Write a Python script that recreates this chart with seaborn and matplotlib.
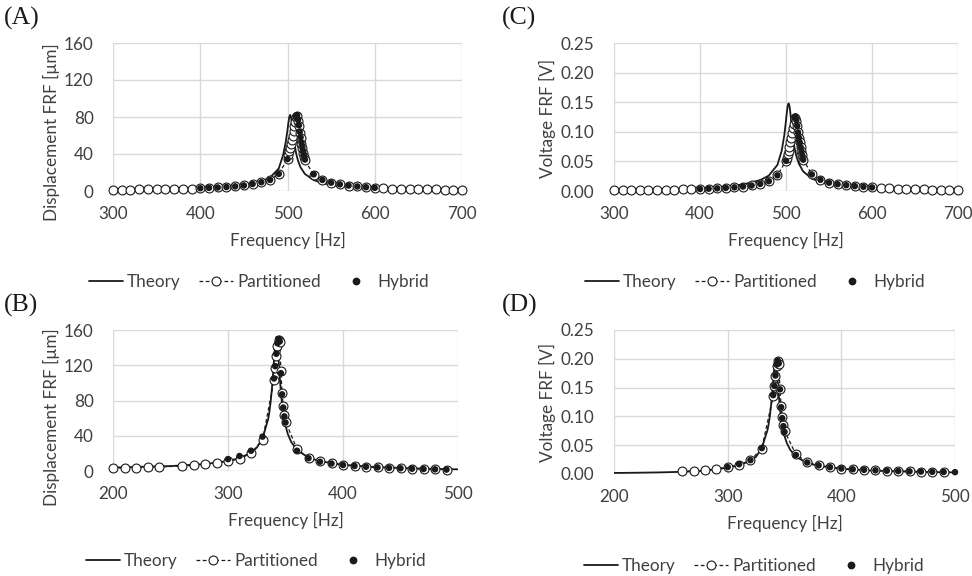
import matplotlib
matplotlib.use("Agg")
import matplotlib.pyplot as plt
import seaborn as sns
from matplotlib.lines import Line2D
from matplotlib.ticker import FormatStrFormatter

# ---------------- (A) displacement FRF, first mode ----------------
a_theory_f = [300, 350, 400, 430, 450, 470, 480, 490, 495, 498, 500, 501, 502, 503, 504, 505,
              506, 507, 508, 510, 512, 515, 520, 530, 540, 550, 575, 600, 650, 700]
a_theory_v = [1.8, 2.4, 3.4, 4.8, 6.5, 10.2, 14.5, 24.4, 39.0, 53.0, 66.0, 73.7, 79.9, 82.3, 79.9, 73.7,
              65.4, 57.6, 50.8, 40.3, 32.9, 25.5, 18.4, 11.8, 8.5, 6.6, 4.2, 3.0, 1.9, 1.4]

a_part_f = [300, 310, 320, 330, 340, 350, 360, 370, 380, 390, 400, 410, 420, 430, 440, 450, 460, 470,
            480, 490, 500, 501, 502, 503, 504, 505, 506, 507, 508, 509, 510, 511, 512, 513, 514, 515,
            516, 517, 518, 519, 520, 530, 540, 550, 560, 570, 580, 590, 600, 610, 620, 630, 640, 650,
            660, 670, 680, 690, 700]
a_part_v = [1.5, 1.6, 1.6, 1.7, 1.8, 1.9, 2.0, 2.2, 2.4, 2.7, 3.0, 3.4, 3.8, 4.3, 5.0, 6.0, 7.6, 9.5,
            12.0, 18.5, 34.5, 39.0, 43.0, 47.0, 51.0, 55.0, 60.0, 65.0, 70.0, 75.0, 80.0, 81.0, 76.0,
            70.0, 63.0, 57.0, 51.0, 46.0, 41.0, 37.0, 33.0, 17.5, 12.0, 9.0, 7.2, 5.9, 4.9, 4.1, 3.4,
            3.0, 2.7, 2.4, 2.2, 2.0, 1.8, 1.7, 1.6, 1.5, 1.4]

a_hyb_f = [400, 410, 420, 430, 440, 450, 460, 470, 480, 490, 500, 510, 511, 512, 513, 514, 515, 516,
           517, 518, 519, 520, 530, 540, 550, 560, 570, 580, 590, 600]
a_hyb_v = [3.0, 3.4, 3.8, 4.3, 5.0, 6.0, 7.6, 9.5, 12.0, 18.5, 34.5, 81.0, 82.0, 77.0, 71.0, 64.0,
           58.0, 52.0, 47.0, 42.0, 38.0, 34.0, 18.0, 12.0, 9.0, 7.2, 5.9, 4.9, 4.1, 3.4]

# ---------------- (B) displacement FRF, second case ----------------
b_theory_f = [200, 250, 280, 300, 310, 320, 325, 330, 335, 336, 337, 338, 339, 340, 341, 342, 343,
              344, 345, 346, 347, 348, 349, 350, 352, 355, 360, 370, 380, 400, 425, 450, 475, 500]
b_theory_v = [3.9, 5.6, 7.9, 11.3, 14.6, 20.8, 26.5, 36.7, 59.3, 67.0, 77.5, 90.6, 107.0, 126.0,
              144.0, 152.0, 144.0, 126.0, 107.0, 89.0, 76.0, 66.0, 57.9, 51.6, 42.0, 32.8, 23.8,
              15.2, 11.1, 7.0, 4.7, 3.4, 2.5, 1.9]

b_part_f = [200, 210, 220, 230, 240, 260, 270, 280, 290, 300, 310, 320, 330, 340, 341, 342, 343, 344,
            345, 346, 347, 348, 349, 350, 360, 370, 380, 390, 400, 410, 420, 430, 440, 450, 460, 470,
            480, 490]
b_part_v = [3.3, 3.6, 3.9, 4.2, 4.6, 5.6, 6.4, 7.5, 8.9, 10.8, 14.0, 20.0, 35.0, 103.0, 117.0, 130.0,
            142.0, 149.0, 146.0, 113.0, 89.0, 74.0, 64.0, 56.0, 25.0, 15.0, 11.0, 8.7, 6.9, 5.8, 4.8,
            4.1, 3.5, 3.1, 2.6, 2.2, 1.9, 1.6]

b_hyb_f = [300, 310, 320, 330, 340, 341, 342, 343, 344, 345, 346, 347, 348, 349, 350, 360, 370, 380,
           390, 400, 410, 420, 430, 440, 450, 460, 470, 480, 490]
b_hyb_v = [13.5, 17.0, 23.0, 39.0, 105.0, 119.0, 133.0, 145.0, 150.0, 147.0, 111.0, 87.0, 72.0, 62.0,
           55.0, 23.0, 14.5, 10.5, 8.5, 6.8, 5.7, 4.8, 4.1, 3.5, 3.1, 2.6, 2.2, 1.9, 1.6]

# ---------------- (C) voltage FRF, first case ----------------
c_theory_f = a_theory_f
c_theory_v = [0.0018, 0.0024, 0.0045, 0.0075, 0.0110, 0.0184, 0.0260, 0.0440, 0.0680, 0.0940,
              0.1190, 0.1330, 0.1440, 0.1480, 0.1440, 0.1330, 0.1180, 0.1040, 0.0910, 0.0725,
              0.0590, 0.0460, 0.0330, 0.0210, 0.0153, 0.0120, 0.0076, 0.0055, 0.0035, 0.0025]

c_part_f = a_part_f
c_part_v = [0.0012, 0.0013, 0.0014, 0.0015, 0.0017, 0.0019, 0.0021, 0.0023, 0.0026, 0.0030, 0.0034,
            0.0039, 0.0045, 0.0052, 0.0062, 0.0075, 0.0093, 0.0120, 0.0165, 0.0265, 0.0510, 0.0560,
            0.0620, 0.0680, 0.0750, 0.0820, 0.0900, 0.0980, 0.1060, 0.1140, 0.1210, 0.1240, 0.1190,
            0.1090, 0.0990, 0.0900, 0.0820, 0.0740, 0.0670, 0.0600, 0.0530, 0.0280, 0.0190, 0.0140,
            0.0115, 0.0098, 0.0083, 0.0071, 0.0061, 0.0053, 0.0046, 0.0040, 0.0035, 0.0031, 0.0028,
            0.0025, 0.0023, 0.0021, 0.0020]

c_hyb_f = a_hyb_f
c_hyb_v = [0.0034, 0.0039, 0.0045, 0.0052, 0.0062, 0.0075, 0.0093, 0.0120, 0.0165, 0.0265, 0.0510,
           0.1250, 0.1260, 0.1200, 0.1100, 0.0990, 0.0900, 0.0820, 0.0740, 0.0670, 0.0600, 0.0530,
           0.0280, 0.0190, 0.0140, 0.0115, 0.0098, 0.0083, 0.0071, 0.0061]

# ---------------- (D) voltage FRF, second case ----------------
d_theory_f = [200, 220, 240, 260, 280, 300, 310, 320, 325, 330, 335, 336, 337, 338, 339, 340, 341,
              342, 343, 344, 345, 346, 347, 348, 349, 350, 352, 355, 360, 370, 380, 400, 425, 450,
              475, 500]
d_theory_v = [0.0018, 0.0022, 0.0028, 0.0038, 0.0058, 0.0110, 0.0150, 0.0230, 0.0300, 0.0450,
              0.0760, 0.0860, 0.0990, 0.1160, 0.1370, 0.1610, 0.1840, 0.1950, 0.1840, 0.1610,
              0.1370, 0.1140, 0.0970, 0.0850, 0.0740, 0.0660, 0.0540, 0.0420, 0.0300, 0.0190,
              0.0142, 0.0090, 0.0061, 0.0045, 0.0034, 0.0028]

d_part_f = [260, 270, 280, 290, 300, 310, 320, 330, 340, 341, 342, 343, 344, 345, 346, 347, 348, 349,
            350, 360, 370, 380, 390, 400, 410, 420, 430, 440, 450, 460, 470, 480, 490]
d_part_v = [0.0045, 0.0055, 0.0068, 0.0088, 0.0115, 0.0160, 0.0235, 0.0440, 0.1350, 0.1520, 0.1700,
            0.1880, 0.1960, 0.1910, 0.1480, 0.1180, 0.0990, 0.0850, 0.0750, 0.0340, 0.0210, 0.0155,
            0.0120, 0.0095, 0.0082, 0.0072, 0.0064, 0.0057, 0.0051, 0.0046, 0.0042, 0.0038, 0.0035]

d_hyb_f = [300, 310, 320, 330, 340, 341, 342, 343, 344, 345, 346, 347, 348, 349, 350, 360, 370, 380,
           390, 400, 410, 420, 430, 440, 450, 460, 470, 480, 490, 500]
d_hyb_v = [0.0120, 0.0170, 0.0240, 0.0450, 0.1370, 0.1530, 0.1710, 0.1900, 0.1970, 0.1920, 0.1470,
           0.1160, 0.0970, 0.0830, 0.0730, 0.0330, 0.0200, 0.0150, 0.0118, 0.0095, 0.0082, 0.0072,
           0.0064, 0.0057, 0.0051, 0.0046, 0.0042, 0.0038, 0.0035, 0.0032]

legend_labels = ["Theory", "Partitioned", "Hybrid"]

INK = "#1a1a1a"
TXT = "#404040"
GRID = "#d9d9d9"
FS = 12.3

sns.set_style("whitegrid")
plt.rcParams["font.family"] = ["Lato", "DejaVu Sans"]
plt.rcParams["font.size"] = FS

W, H = 972, 576
fig = plt.figure(figsize=(W / 100, H / 100), dpi=100)


def px_axes(l, t, r, b):
    # axes box given in pixel coordinates of the reference
    return fig.add_axes([l / W, 1 - b / H, (r - l) / W, (b - t) / H])


def draw_panel(ax, th_f, th_v, pa_f, pa_v, hy_f, hy_v, xlim, xstep, ylim, ystep, ylabel,
               decimals, label_xy):
    sns.lineplot(x=th_f, y=th_v, ax=ax, color=INK, lw=1.3, sort=False, estimator=None, zorder=3)
    sns.lineplot(x=pa_f, y=pa_v, ax=ax, color=INK, lw=0.9, linestyle=(0, (3, 2)),
                 marker="o", markersize=6.4, markerfacecolor="white", markeredgecolor=INK,
                 markeredgewidth=0.8, sort=False, estimator=None, zorder=4, clip_on=False)
    sns.scatterplot(x=hy_f, y=hy_v, ax=ax, color=INK, s=22, edgecolor="none", zorder=5,
                    clip_on=False)
    ax.set_xlim(*xlim)
    ax.set_ylim(*ylim)
    n = int(round((xlim[1] - xlim[0]) / xstep))
    ax.set_xticks([xlim[0] + i * xstep for i in range(n + 1)])
    m = int(round((ylim[1] - ylim[0]) / ystep))
    ax.set_yticks([ylim[0] + i * ystep for i in range(m + 1)])
    if decimals:
        ax.yaxis.set_major_formatter(FormatStrFormatter("%.2f"))
    ax.grid(True, color=GRID, lw=1.0)
    for s in ax.spines.values():
        s.set_visible(False)
    ax.tick_params(axis="both", length=0, labelsize=FS, colors=TXT)
    ax.tick_params(axis="x", pad=11)
    ax.tick_params(axis="y", pad=14)
    ax.set_xlabel("Frequency [Hz]", fontsize=FS, color=TXT, labelpad=7)
    ax.set_ylabel(ylabel, fontsize=FS, color=TXT)
    ax.yaxis.set_label_coords(*label_xy)


axA = px_axes(113, 43, 462, 191)
axC = px_axes(614, 43, 958, 191)
axB = px_axes(113, 330, 458, 471)
axD = px_axes(614, 330, 955, 474)

draw_panel(axA, a_theory_f, a_theory_v, a_part_f, a_part_v, a_hyb_f, a_hyb_v,
           (300, 700), 100, (0, 160), 40, "Displacement FRF [µm]", False, (-0.152, 0.40))
draw_panel(axC, c_theory_f, c_theory_v, c_part_f, c_part_v, c_hyb_f, c_hyb_v,
           (300, 700), 100, (0, 0.25), 0.05, "Voltage FRF [V]", True, (-0.169, 0.49))
draw_panel(axB, b_theory_f, b_theory_v, b_part_f, b_part_v, b_hyb_f, b_hyb_v,
           (200, 500), 100, (0, 160), 40, "Displacement FRF [µm]", False, (-0.154, 0.38))
draw_panel(axD, d_theory_f, d_theory_v, d_part_f, d_part_v, d_hyb_f, d_hyb_v,
           (200, 500), 100, (0, 0.25), 0.05, "Voltage FRF [V]", True, (-0.170, 0.50))

handles = [
    Line2D([], [], color=INK, lw=1.3),
    Line2D([], [], color=INK, lw=0.9, ls=(0, (3, 2)), marker="o", ms=6.4,
           mfc="white", mec=INK, mew=0.8),
    Line2D([], [], ls="none", marker="o", ms=4.6, color=INK),
]
for cx, cy in [(259, 282), (755, 282), (256, 561), (754, 566)]:
    fig.legend(handles, legend_labels, loc="center", bbox_to_anchor=(cx / W, 1 - cy / H),
               ncol=3, frameon=False, fontsize=FS, handlelength=1.95, handletextpad=0.25,
               columnspacing=1.1, labelcolor=TXT)

for lab, x, y in [("(A)", 4, 7), ("(C)", 502, 7), ("(B)", 4, 294), ("(D)", 502, 294)]:
    fig.text(x / W, 1 - y / H, lab, family="Liberation Serif", fontsize=18.5, va="top",
             ha="left", color=INK)

fig.savefig("out.png", dpi=100)
